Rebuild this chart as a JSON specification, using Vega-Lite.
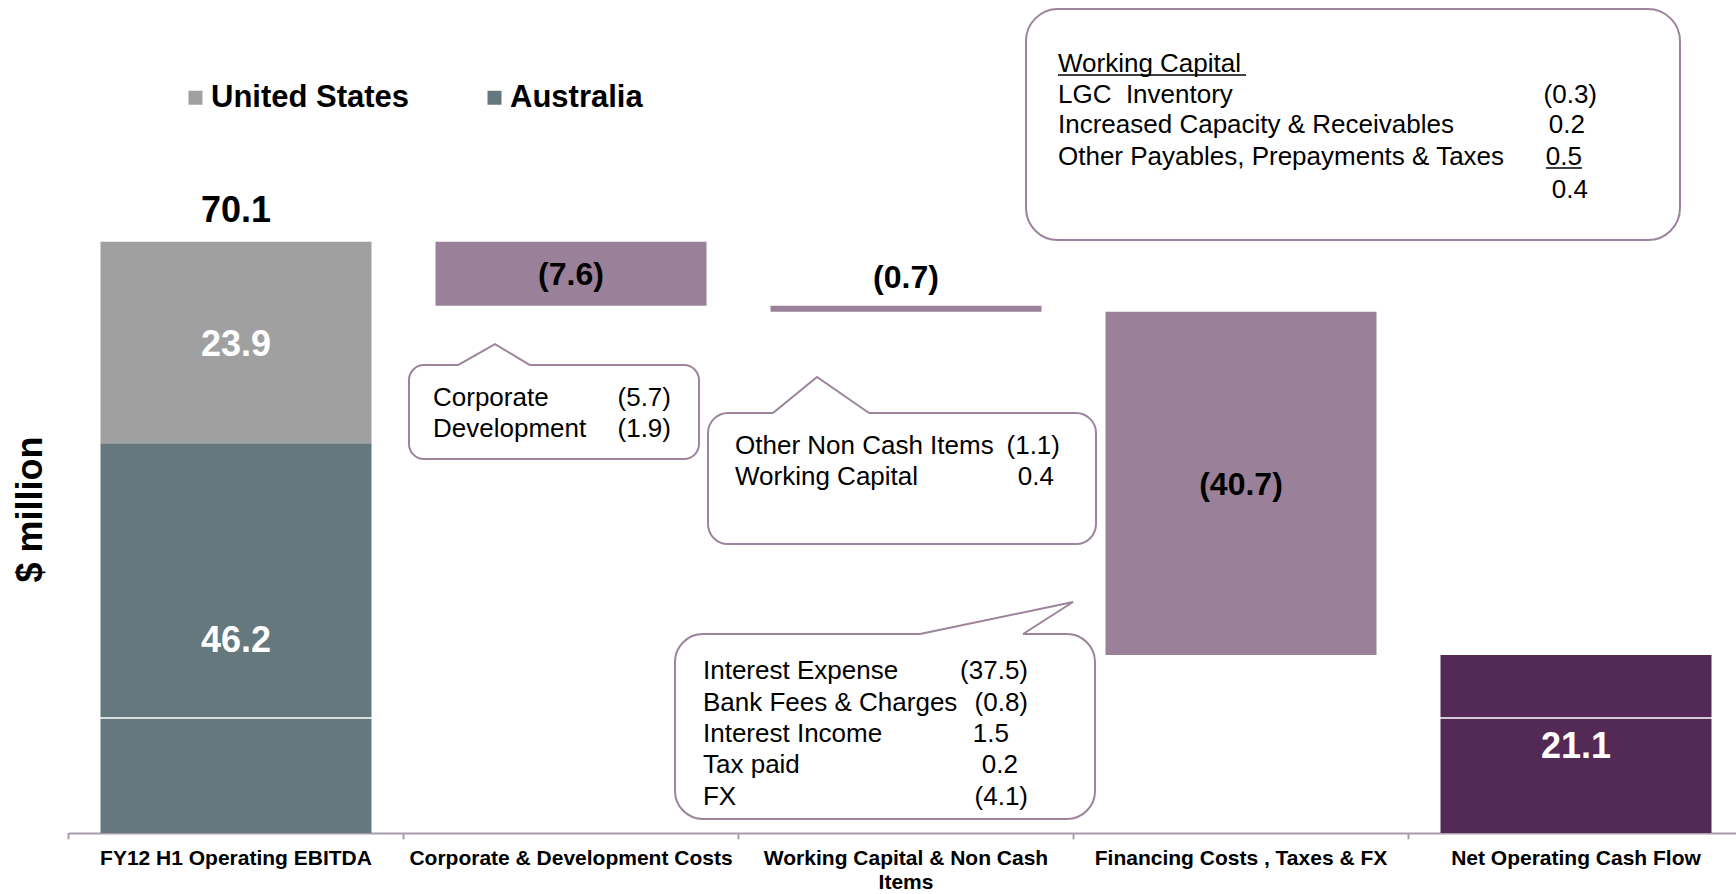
{
  "$schema": "https://vega.github.io/schema/vega-lite/v6.json",
  "width": 1667.5,
  "height": 833,
  "autosize": {"type": "none"},
  "padding": {"left": 68.5, "top": 0, "right": 0, "bottom": 61},
  "background": "white",
  "config": {"view": {"stroke": null}, "font": "Liberation Sans"},
  "datasets": {
    "bars": [
      {"cat": "FY12 H1 Operating EBITDA", "series": "Australia", "start": 0, "end": 46.2, "label": "46.2"},
      {"cat": "FY12 H1 Operating EBITDA", "series": "United States", "start": 46.2, "end": 70.1, "label": "23.9"},
      {"cat": "Corporate & Development Costs", "series": "Costs", "start": 70.1, "end": 62.5, "label": "(7.6)"},
      {"cat": "Working Capital & Non Cash Items", "series": "Costs", "start": 62.5, "end": 61.8, "label": "(0.7)"},
      {"cat": "Financing Costs , Taxes & FX", "series": "Costs", "start": 61.8, "end": 21.1, "label": "(40.7)"},
      {"cat": "Net Operating Cash Flow", "series": "Net", "start": 0, "end": 21.1, "label": "21.1"}
    ],
    "totals": [{"cat": "FY12 H1 Operating EBITDA", "total": 70.1}],
    "grid": [{"v": 13.63}],
    "boundaries": [{"b": 0}, {"b": 1}, {"b": 2}, {"b": 3}, {"b": 4}, {"b": 5}],
    "boxes": [
      {"box": "corp", "x1": 1.0164, "x2": 1.8821, "y1": 55.48, "y2": 44.34},
      {"box": "nc", "x1": 1.909, "x2": 3.0672, "y1": 49.79, "y2": 34.26},
      {"box": "fin", "x1": 1.8104, "x2": 3.0642, "y1": 23.59, "y2": 1.66},
      {"box": "wc", "x1": 2.8582, "x2": 4.8104, "y1": 97.69, "y2": 70.3}
    ],
    "tails": [
      {"tail": "corp", "seq": 1, "x": 1.1627, "y": 55.48},
      {"tail": "corp", "seq": 2, "x": 1.2731, "y": 57.97},
      {"tail": "corp", "seq": 3, "x": 1.3776, "y": 55.48},
      {"tail": "nc", "seq": 1, "x": 2.103, "y": 49.79},
      {"tail": "nc", "seq": 2, "x": 2.2343, "y": 54.06},
      {"tail": "nc", "seq": 3, "x": 2.3896, "y": 49.79},
      {"tail": "fin", "seq": 1, "x": 2.5418, "y": 23.59},
      {"tail": "fin", "seq": 2, "x": 2.9985, "y": 27.39},
      {"tail": "fin", "seq": 3, "x": 2.8493, "y": 23.59}
    ],
    "notes": [
      {"t": "Corporate", "x": 1.0881, "y": 50.62},
      {"t": "Development", "x": 1.0881, "y": 46.95},
      {"t": "Other Non Cash Items", "x": 1.9896, "y": 44.93},
      {"t": "Working Capital", "x": 1.9896, "y": 41.26},
      {"t": "Interest Expense", "x": 1.894, "y": 18.26},
      {"t": "Bank Fees & Charges", "x": 1.894, "y": 14.46},
      {"t": "Interest Income", "x": 1.894, "y": 10.79},
      {"t": "Tax paid", "x": 1.894, "y": 7.11},
      {"t": "FX", "x": 1.894, "y": 3.32},
      {"t": "Working Capital", "x": 2.9537, "y": 90.22},
      {"t": "LGC \u00a0Inventory", "x": 2.9537, "y": 86.54},
      {"t": "Increased Capacity & Receivables", "x": 2.9537, "y": 82.99},
      {"t": "Other Payables, Prepayments & Taxes", "x": 2.9537, "y": 79.19}
    ],
    "amounts": [
      {"t": "(5.7)", "x": 1.7985, "y": 50.62},
      {"t": "(1.9)", "x": 1.7985, "y": 46.95},
      {"t": "(1.1)", "x": 2.9597, "y": 44.93},
      {"t": "0.4", "x": 2.9418, "y": 41.26},
      {"t": "(37.5)", "x": 2.8642, "y": 18.26},
      {"t": "(0.8)", "x": 2.8642, "y": 14.46},
      {"t": "1.5", "x": 2.8075, "y": 10.79},
      {"t": "0.2", "x": 2.8343, "y": 7.11},
      {"t": "(4.1)", "x": 2.8642, "y": 3.32},
      {"t": "(0.3)", "x": 4.5627, "y": 86.54},
      {"t": "0.2", "x": 4.5269, "y": 82.99},
      {"t": "0.5", "x": 4.5179, "y": 79.19},
      {"t": "0.4", "x": 4.5358, "y": 75.28}
    ],
    "underlines": [
      {"x1": 2.9537, "x2": 3.5149, "y": 89.86},
      {"x1": 4.4104, "x2": 4.5179, "y": 78.84}
    ]
  },
  "layer": [
    {
      "layer": [
        {
          "data": {"name": "bars"},
          "mark": {"type": "bar"},
          "encoding": {
            "x": {
              "field": "cat", "type": "nominal", "sort": null,
              "scale": {"paddingInner": 0.191, "paddingOuter": 0.0955, "range": [0, 1675]},
              "axis": {
                "orient": "bottom", "title": null, "labelAngle": 0, "labelFont": "Liberation Sans", "labelFontSize": 21,
                "labelFontWeight": "bold", "labelColor": "#000000", "labelLimit": 400, "labelPadding": 14,
                "labelLineHeight": 24, "ticks": false,
                "domainColor": "#A69CAE", "domainWidth": 2, "grid": false,
                "labelExpr": "datum.label == 'Working Capital & Non Cash Items' ? ['Working Capital & Non Cash', 'Items'] : datum.label"
              }
            },
            "y": {
              "field": "start", "type": "quantitative",
              "scale": {"domain": [0, 98.76], "nice": false},
              "axis": {
                "title": "$ million", "titleFont": "Liberation Sans", "titleFontSize": 36, "titleFontWeight": "bold",
                "titleColor": "#000000", "titleX": -27.5, "titleY": 509, "titleAngle": -90, "titleAlign": "center",
                "titleBaseline": "alphabetic", "domain": false, "ticks": false, "labels": false, "grid": false
              }
            },
            "y2": {"field": "end"},
            "color": {
              "field": "series", "type": "nominal",
              "scale": {"domain": ["United States", "Australia", "Costs", "Net"], "range": ["#A0A0A0", "#65787E", "#9A8099", "#532A55"]},
              "legend": {
                "values": ["United States", "Australia"], "orient": "none", "legendX": 111.5, "legendY": 82,
                "direction": "horizontal", "title": null, "symbolType": "square", "symbolSize": 196,
                "symbolStrokeWidth": 0, "labelFont": "Liberation Sans", "labelFontSize": 31, "labelFontWeight": "bold",
                "labelColor": "#000000", "columnPadding": 69, "labelOffset": 0, "padding": 0, "labelLimit": 0
              }
            }
          }
        },
        {
          "data": {"name": "grid"},
          "mark": {"type": "rule", "color": "#FFFFFF", "strokeWidth": 1.5},
          "encoding": {
            "y": {"field": "v", "type": "quantitative", "scale": {"domain": [0, 98.76], "nice": false}}
          }
        },
        {
          "data": {"name": "bars"},
          "transform": [
            {"filter": "datum.series != 'Costs'"},
            {"fold": ["start", "end"], "as": ["k", "v"]}
          ],
          "mark": {"type": "text", "font": "Liberation Sans", "fontSize": 36, "fontWeight": "bold", "color": "#FFFFFF", "baseline": "alphabetic", "dy": 13.5},
          "encoding": {
            "x": {"field": "cat", "type": "nominal", "sort": null},
            "y": {"aggregate": "mean", "field": "v", "type": "quantitative", "scale": {"domain": [0, 98.76], "nice": false}},
            "text": {"field": "label", "type": "nominal"}
          }
        },
        {
          "data": {"name": "bars"},
          "transform": [
            {"filter": "datum.series == 'Costs' && datum.cat != 'Working Capital & Non Cash Items'"},
            {"fold": ["start", "end"], "as": ["k", "v"]}
          ],
          "mark": {"type": "text", "font": "Liberation Sans", "fontSize": 32, "fontWeight": "bold", "color": "#000000", "baseline": "alphabetic", "dy": 11.5},
          "encoding": {
            "x": {"field": "cat", "type": "nominal", "sort": null},
            "y": {"aggregate": "mean", "field": "v", "type": "quantitative", "scale": {"domain": [0, 98.76], "nice": false}},
            "text": {"field": "label", "type": "nominal"}
          }
        },
        {
          "data": {"name": "bars"},
          "transform": [{"filter": "datum.cat == 'Working Capital & Non Cash Items'"}],
          "mark": {"type": "text", "font": "Liberation Sans", "fontSize": 32, "fontWeight": "bold", "color": "#000000", "baseline": "alphabetic", "dy": -17.5},
          "encoding": {
            "x": {"field": "cat", "type": "nominal", "sort": null},
            "y": {"field": "start", "type": "quantitative", "scale": {"domain": [0, 98.76], "nice": false}},
            "text": {"field": "label", "type": "nominal"}
          }
        },
        {
          "data": {"name": "totals"},
          "mark": {"type": "text", "font": "Liberation Sans", "fontSize": 36, "fontWeight": "bold", "color": "#000000", "baseline": "alphabetic", "dy": -20},
          "encoding": {
            "x": {"field": "cat", "type": "nominal", "sort": null},
            "y": {"field": "total", "type": "quantitative", "scale": {"domain": [0, 98.76], "nice": false}},
            "text": {"field": "total", "type": "quantitative", "format": ".1f"}
          }
        }
      ]
    },
    {
      "layer": [
        {
          "data": {"name": "boundaries"},
          "mark": {"type": "rule", "color": "#A69CAE", "strokeWidth": 2},
          "encoding": {
            "x": {
              "field": "b", "type": "quantitative",
              "scale": {"domain": [0, 5], "range": [0, 1675], "nice": false, "zero": false},
              "axis": null
            },
            "y": {"datum": 0, "type": "quantitative", "scale": {"domain": [0, 98.76], "nice": false}},
            "y2": {"datum": -0.75}
          }
        },
        {
          "data": {"name": "boxes"},
          "transform": [{"filter": "datum.box == 'corp'"}],
          "mark": {"type": "rect", "fill": "#FFFFFF", "stroke": "#9C849C", "strokeWidth": 2, "cornerRadius": 15},
          "encoding": {
            "x": {"field": "x1", "type": "quantitative", "axis": null},
            "x2": {"field": "x2"},
            "y": {"field": "y1", "type": "quantitative"},
            "y2": {"field": "y2"}
          }
        },
        {
          "data": {"name": "boxes"},
          "transform": [{"filter": "datum.box == 'nc'"}],
          "mark": {"type": "rect", "fill": "#FFFFFF", "stroke": "#9C849C", "strokeWidth": 2, "cornerRadius": 20},
          "encoding": {
            "x": {"field": "x1", "type": "quantitative", "axis": null},
            "x2": {"field": "x2"},
            "y": {"field": "y1", "type": "quantitative"},
            "y2": {"field": "y2"}
          }
        },
        {
          "data": {"name": "boxes"},
          "transform": [{"filter": "datum.box == 'fin'"}],
          "mark": {"type": "rect", "fill": "#FFFFFF", "stroke": "#9C849C", "strokeWidth": 2, "cornerRadius": 28},
          "encoding": {
            "x": {"field": "x1", "type": "quantitative", "axis": null},
            "x2": {"field": "x2"},
            "y": {"field": "y1", "type": "quantitative"},
            "y2": {"field": "y2"}
          }
        },
        {
          "data": {"name": "boxes"},
          "transform": [{"filter": "datum.box == 'wc'"}],
          "mark": {"type": "rect", "fill": "#FFFFFF", "stroke": "#9C849C", "strokeWidth": 2, "cornerRadius": 32},
          "encoding": {
            "x": {"field": "x1", "type": "quantitative", "axis": null},
            "x2": {"field": "x2"},
            "y": {"field": "y1", "type": "quantitative"},
            "y2": {"field": "y2"}
          }
        },
        {
          "data": {"name": "tails"},
          "transform": [{"filter": "datum.seq != 2"}],
          "mark": {"type": "rule", "color": "#FFFFFF", "strokeWidth": 4},
          "encoding": {
            "x": {"aggregate": "min", "field": "x", "type": "quantitative", "axis": null},
            "x2": {"aggregate": "max", "field": "x"},
            "y": {"aggregate": "min", "field": "y", "type": "quantitative"},
            "detail": {"field": "tail", "type": "nominal"}
          }
        },
        {
          "data": {"name": "tails"},
          "mark": {"type": "line", "color": "#9C849C", "strokeWidth": 2},
          "encoding": {
            "x": {"field": "x", "type": "quantitative", "axis": null},
            "y": {"field": "y", "type": "quantitative"},
            "detail": {"field": "tail", "type": "nominal"},
            "order": {"field": "seq", "type": "quantitative"}
          }
        },
        {
          "data": {"name": "notes"},
          "mark": {"type": "text", "align": "left", "baseline": "alphabetic", "font": "Liberation Sans", "fontSize": 26, "color": "#000000"},
          "encoding": {
            "x": {"field": "x", "type": "quantitative", "axis": null},
            "y": {"field": "y", "type": "quantitative"},
            "text": {"field": "t", "type": "nominal"}
          }
        },
        {
          "data": {"name": "amounts"},
          "mark": {"type": "text", "align": "right", "baseline": "alphabetic", "font": "Liberation Sans", "fontSize": 26, "color": "#000000"},
          "encoding": {
            "x": {"field": "x", "type": "quantitative", "axis": null},
            "y": {"field": "y", "type": "quantitative"},
            "text": {"field": "t", "type": "nominal"}
          }
        },
        {
          "data": {"name": "underlines"},
          "mark": {"type": "rule", "color": "#000000", "strokeWidth": 1.5},
          "encoding": {
            "x": {"field": "x1", "type": "quantitative", "axis": null},
            "x2": {"field": "x2"},
            "y": {"field": "y", "type": "quantitative"}
          }
        }
      ]
    }
  ],
  "resolve": {"scale": {"x": "independent"}}
}
